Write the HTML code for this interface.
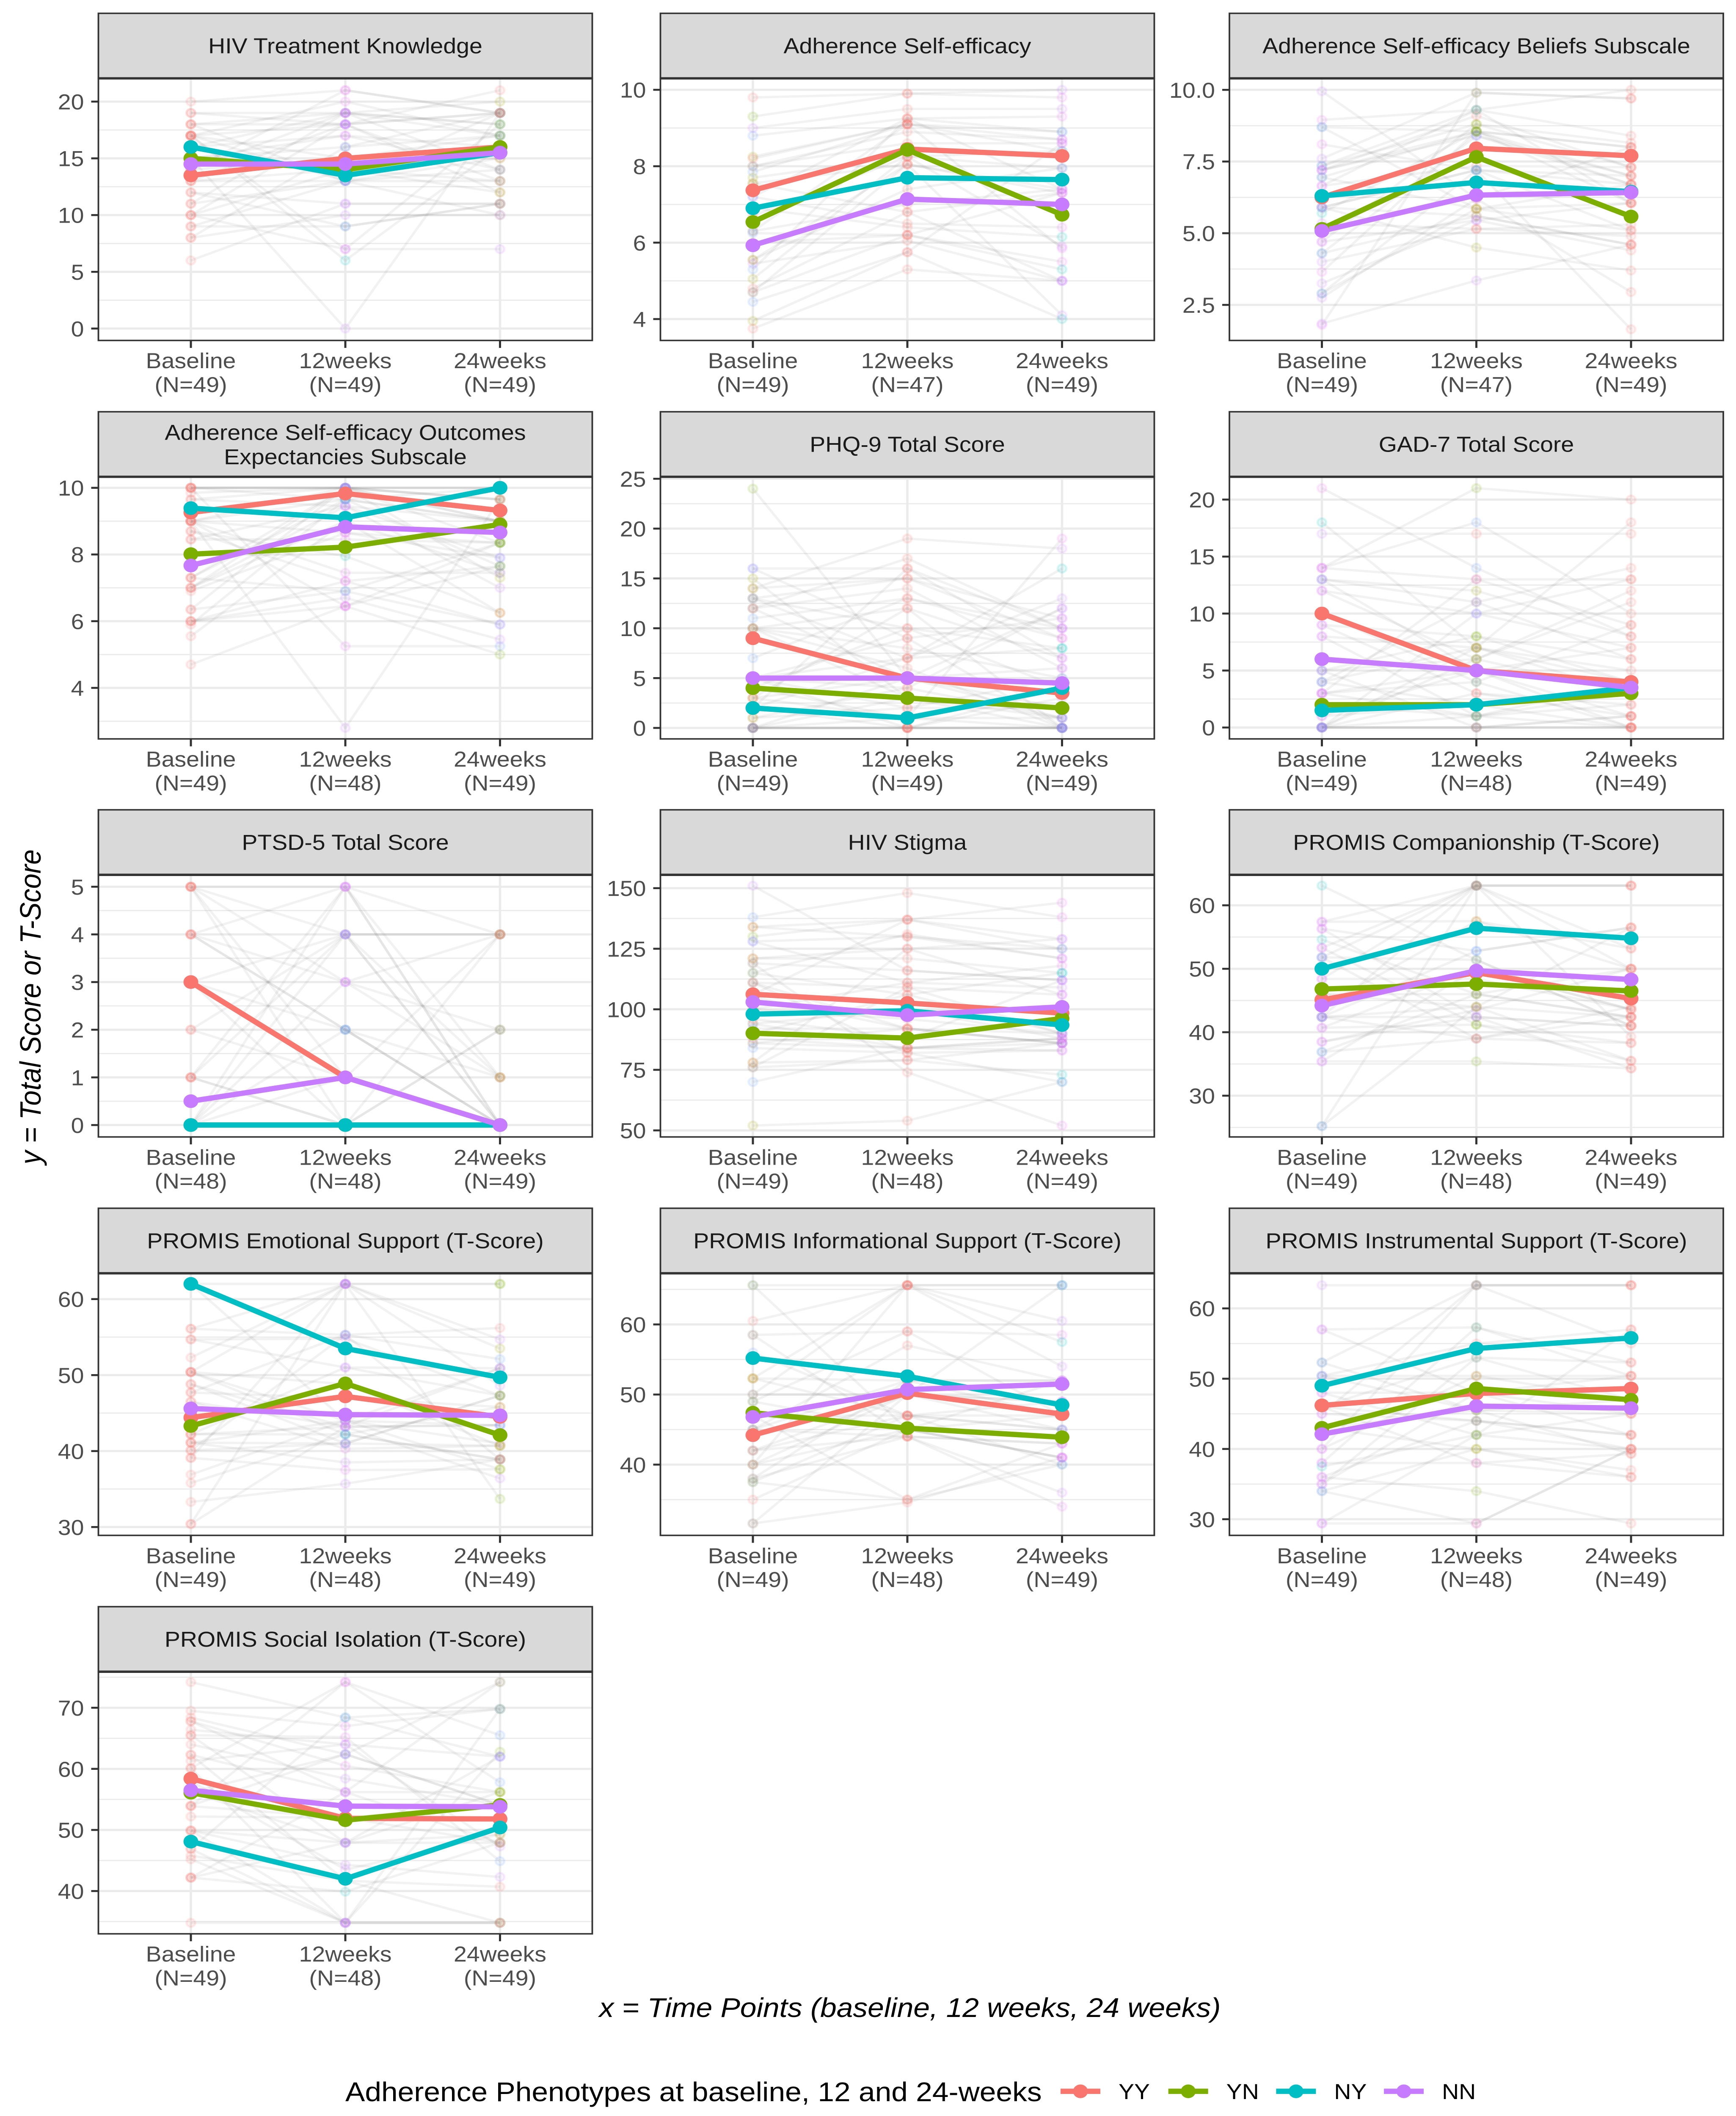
<!DOCTYPE html>
<html lang="en">
<head>
<meta charset="utf-8">
<title>Adherence Phenotypes Small Multiples</title>
<style>
html,body{margin:0;padding:0;background:#fff;overflow:hidden;width:100%;height:100%;}
svg{display:block;width:100vw;height:100vh;font-family:"Liberation Sans",Arial,sans-serif;}
</style>
</head>
<body>
<svg id="chart" xmlns="http://www.w3.org/2000/svg" width="4102" height="5401" viewBox="0 0 4102 5401" preserveAspectRatio="none"></svg>
<script>
// ---------- data ----------
const timeLabels = ['Baseline', '12weeks', '24weeks'];
const phenotypes = ['YY', 'YN', 'NY', 'NN'];
const phenotypeColors = ['#F8766D', '#7CAE00', '#00BFC4', '#C77CFF'];
const subjectColors = ['#F8766D', '#F8766D', '#C77CFF', '#F8766D', '#7CAE00', '#E76BF3', '#F8766D', '#C77CFF', '#00BFC4', '#F8766D', '#619CFF', '#C77CFF', '#F8766D', '#A3A500', '#E76BF3'];

const titleHiv = ['HIV Treatment Knowledge'];
const domainHiv = [-1.05, 22.05];
const ticksHiv = [0, 5, 10, 15, 20];
const tickLabelsHiv = ['0', '5', '10', '15', '20'];
const nHiv = [49, 49, 49];
const yyHiv = [13.5, 15, 16];
const ynHiv = [15, 14, 16];
const nyHiv = [16, 13.5, 15.5];
const nnHiv = [14.5, 14.5, 15.5];
const subjectsHiv = [[20,21,19],[19,19,20],[18,18,21],[18,19,18],[17,18,19],[17,20,17],[17,15,17],[17,13,19],[16,19,18],[16,17,16],[15,17,14],[15,16,19],[15,0,19],[14,15,15],[14,19,14],[13,14,13],[13,13,13],[13,18,12],[12,9,11],[12,11,11],[11,19,17],[11,13,14],[10,18,13],[10,14,12],[10,7,7],[9,13,10],[9,9,11],[8,10,10],[8,16,17],[6,11,11],[17,7,18],[17,6,16],[18,13,15],[14,21,19],[19,18,19]];

const titleAse = ['Adherence Self-efficacy'];
const domainAse = [3.44, 10.3];
const ticksAse = [4, 6, 8, 10];
const tickLabelsAse = ['4', '6', '8', '10'];
const nAse = [49, 47, 49];
const yyAse = [7.37, 8.45, 8.27];
const ynAse = [6.54, 8.43, 6.73];
const nyAse = [6.9, 7.7, 7.65];
const nnAse = [5.93, 7.14, 7.0];
const subjectsAse = [[9.8,9.9,10],[9.3,9.9,9.8],[9,9.5,9.5],[8.8,9.25,9.3],[8.25,9.1,8.9],[8.2,9.1,8.7],[8,8.9,8.7],[8,8.6,8.6],[7.85,9.1,8.4],[7.7,8.25,7.95],[7.55,8.05,7.4],[7.55,6.8,7.3],[7.2,9.25,8.9],[7.2,6.5,6.4],[6.9,6.4,6.15],[6.7,8.25,5.9],[6.3,9.1,5.85],[6.3,7.0,7.4],[6.25,6.2,5.5],[6,6.2,5.3],[5.55,8.05,7.3],[5.55,7.4,7.95],[5.45,6.05,5.0],[5.3,9.25,7.4],[5.05,8.25,8.4],[4.8,6.8,5.0],[4.7,6.2,7.3],[4.7,8.05,4.1],[4.45,5.75,8.6],[3.95,5.75,4.0],[3.75,5.3,5.0]];

const titleBel = ['Adherence Self-efficacy Beliefs Subscale'];
const domainBel = [1.26, 10.4];
const ticksBel = [2.5, 5, 7.5, 10];
const tickLabelsBel = ['2.5', '5.0', '7.5', '10.0'];
const nBel = [49, 47, 49];
const yyBel = [6.25, 7.96, 7.7];
const ynBel = [5.15, 7.66, 5.58];
const nyBel = [6.3, 6.77, 6.45];
const nnBel = [5.08, 6.33, 6.42];
const subjectsBel = [[9.95,6.2,8.0],[8.95,9.3,8.4],[8.7,8.55,8.0],[8.7,5.85,5.1],[8.1,7.2,6.7],[7.6,9.9,9.7],[7.35,9.3,10],[7.35,8.8,8.15],[7.2,9.1,7.3],[7.2,8.55,7.0],[7.2,8.4,6.7],[6.95,8.55,8.0],[6.95,5.85,6.05],[6.65,7.35,7.3],[6.65,9.3,6.05],[5.9,5.6,4.6],[5.9,7.2,7.0],[5.7,8.55,6.7],[5.35,5.15,4.9],[4.7,8.8,7.3],[4.7,5.45,6.05],[4.3,8.4,7.0],[4.3,5.6,4.6],[4.0,5.15,5.3],[3.65,8.55,6.05],[3.25,5.45,4.4],[2.9,7.2,5.1],[2.9,5.85,6.7],[2.75,6.2,2.95],[1.8,9.9,9.7],[1.85,3.35,4.6],[5.9,7.2,1.65],[5.9,4.5,3.7]];

const titleOut = ['Adherence Self-efficacy Outcomes', 'Expectancies Subscale'];
const domainOut = [2.47, 10.33];
const ticksOut = [4, 6, 8, 10];
const tickLabelsOut = ['4', '6', '8', '10'];
const nOut = [49, 48, 49];
const yyOut = [9.26, 9.83, 9.32];
const ynOut = [8.01, 8.22, 8.9];
const nyOut = [9.39, 9.1, 10];
const nnOut = [7.67, 8.83, 8.66];
const subjectsOut = [[10,10,10],[10,10,10],[10,10,9.65],[10,9.65,9],[10,5.25,5.25],[9.85,10,9.65],[9.65,9.45,9],[9.65,10,8.35],[9,10,9.65],[9,8.65,7.9],[9,9.65,7.65],[9,2.8,9.65],[8.45,8.45,8.35],[8.45,9.45,7.9],[8.7,7.2,5.9],[7.3,10,7.3],[7.3,9.65,10],[7,10,9],[7,9.45,7],[6.9,8.65,8.35],[6.35,6.9,8.35],[6.35,10,9],[6,6.45,7.65],[6,6.7,5.45],[6,7.2,7.65],[5.9,9.65,9],[5.55,9,7.45],[4.7,6.45,8.35],[7.3,6.9,5.9],[9.0,7.45,7.45],[8.7,7.95,6.25],[7,9,6.25],[9.0,6.45,5.0]];

const titlePhq = ['PHQ-9 Total Score'];
const domainPhq = [-1.1, 25.2];
const ticksPhq = [0, 5, 10, 15, 20, 25];
const tickLabelsPhq = ['0', '5', '10', '15', '20', '25'];
const nPhq = [49, 49, 49];
const yyPhq = [9, 5, 3.5];
const ynPhq = [4, 3, 2];
const nyPhq = [2, 1, 4];
const nnPhq = [5, 5, 4.5];
const subjectsPhq = [[24,5,1],[16,16,10],[16,9,0],[15,3,0],[14,19,18],[14,15,11],[13,10,4],[13,15,9],[13,7,16],[12,17,10],[12,14,6],[12,5,2],[11,13,9],[10,8,5],[10,12,7],[10,6,0],[10,3,1],[7,13,10],[5,7,8],[5,9,11],[5,2,2],[5,0,3],[4,1,19],[4,10,8],[3,5,12],[3,1,0],[2,7,13],[2,16,7],[2,0,0],[1,4,12],[1,2,5],[0,0,0],[0,0,0],[0,0,0],[0,5,6],[0,1,1],[0,0,4],[0,3,2],[5,4,1],[3,12,0]];

const titleGad = ['GAD-7 Total Score'];
const domainGad = [-1, 22];
const ticksGad = [0, 5, 10, 15, 20];
const tickLabelsGad = ['0', '5', '10', '15', '20'];
const nGad = [49, 48, 49];
const yyGad = [10, 5, 4];
const ynGad = [2, 2, 3];
const nyGad = [1.5, 2, 3.5];
const nnGad = [6, 5, 3.5];
const subjectsGad = [[21,14,8],[18,7,3],[17,17,17],[14,21,20],[14,13,9],[14,18,10],[13,12,8],[13,11,6],[13,5,1],[12,6,3],[12,10,7],[10,4,0],[9,3,1],[9,8,4],[8,7,5],[8,1,0],[5,6,12],[5,0,1],[5,8,6],[4,2,0],[4,11,14],[4,7,4],[3,13,13],[3,1,2],[3,5,0],[3,4,9],[2,1,4],[1,2,3],[1,5,7],[0,0,0],[0,0,0],[0,0,1],[0,3,2],[0,6,11],[0,10,13],[0,1,3],[0,7,18]];

const titlePts = ['PTSD-5 Total Score'];
const domainPts = [-0.25, 5.25];
const ticksPts = [0, 1, 2, 3, 4, 5];
const tickLabelsPts = ['0', '1', '2', '3', '4', '5'];
const nPts = [48, 48, 49];
const yyPts = [3, 1, 0];
const ynPts = [0, 0, 0];
const nyPts = [0, 0, 0];
const nnPts = [0.5, 1, 0];
const subjectsPts = [[5,5,4],[5,4,4],[5,3,1],[5,0,0],[4,2,0],[4,3,2],[4,5,0],[4,2,0],[3,2,0],[3,0,0],[3,1,0],[2,4,0],[2,1,0],[1,5,0],[1,0,0],[1,4,4],[0,0,0],[0,0,0],[0,0,0],[0,4,1],[0,5,1],[0,3,4],[0,1,4],[0,0,2],[0,2,1],[0,0,4],[1,0,2],[3,4,0],[5,1,0]];

const titleStg = ['HIV Stigma'];
const domainStg = [47.3, 155.5];
const ticksStg = [50, 75, 100, 125, 150];
const tickLabelsStg = ['50', '75', '100', '125', '150'];
const nStg = [49, 48, 49];
const yyStg = [106.2, 102.6, 98.4];
const ynStg = [90.1, 88.1, 96.2];
const nyStg = [98, 99.4, 93.5];
const nnStg = [103, 97.6, 101];
const subjectsStg = [[151,116,112],[138,148,138],[134,130,125],[134,137,129],[130,137,144],[128,130,121],[128,111,118],[121,121,115],[121,125,106],[119,74,52],[119,116,112],[115,131,121],[115,106,90],[111,82,70],[111,109,106],[111,92,86],[106,137,125],[105,92,86],[100,111,109],[94,100,88],[94,84,83],[92,92,86],[90,106,115],[88,84,88],[86,84,86],[86,92,90],[84,82,83],[78,79,73],[78,125,129],[76,79,86],[76,109,90],[70,84,88],[52,54,70],[96,88,112],[100,96,90]];

const titleCom = ['PROMIS Companionship (T-Score)'];
const domainCom = [23.5, 64.8];
const ticksCom = [30, 40, 50, 60];
const tickLabelsCom = ['30', '40', '50', '60'];
const nCom = [49, 48, 49];
const yyCom = [45.1, 49.4, 45.3];
const ynCom = [46.8, 47.6, 46.5];
const nyCom = [50, 56.4, 54.8];
const nnCom = [44.2, 49.7, 48.3];
const subjectsCom = [[63.1,51.4,41],[57.4,57.5,50],[57.4,63.1,53.2],[56.3,42.4,34.3],[56.3,52.8,56.5],[54.6,46,42.4],[53.3,63.1,63.1],[53.3,41.2,38.3],[51.8,63.1,50],[51.8,51.4,41],[51.8,39,42.4],[48.4,63.1,63.1],[48.4,48.4,43.6],[46,44,35.5],[46,46,50],[44,57.5,53.2],[42.4,42.4,41],[42.4,63.1,39.3],[42.4,39,38.3],[42.4,52.8,56.5],[42.4,44,42.4],[40.7,50,43.6],[40.7,41.2,35.5],[38.5,43.5,50],[38.5,42.4,41],[36.9,46,42.4],[36.9,39,44],[35.4,35.4,34.3],[35.4,50,43.6],[25.2,63.1,63.1],[25.2,44,56.5]];

const titleEmo = ['PROMIS Emotional Support (T-Score)'];
const domainEmo = [28.9, 63.4];
const ticksEmo = [30, 40, 50, 60];
const tickLabelsEmo = ['30', '40', '50', '60'];
const nEmo = [49, 48, 49];
const yyEmo = [44.4, 47.2, 44.5];
const ynEmo = [43.3, 48.9, 42.1];
const nyEmo = [62, 53.5, 49.7];
const nnEmo = [45.6, 44.8, 44.7];
const subjectsEmo = [[62,62,62],[62,44,41],[56.1,55.3,52.1],[56.1,62,53.5],[54.7,51,47.3],[54.7,54.8,47.3],[52.3,62,48.6],[50.4,42.2,38.9],[50.4,44,37.6],[50.4,48.8,40.7],[50.4,62,33.7],[48.8,43.2,43.4],[48.8,41,47.3],[47.7,55.3,38.9],[47.7,47,45.8],[46.5,40.3,40.7],[46.5,43.2,36.4],[42.2,43.2,43.4],[42.2,42.2,38.9],[42.2,51,50.9],[41.1,41,47.3],[41.1,38.5,38.9],[41.1,44,43.4],[40.1,41,40.7],[40.1,55.3,56.2],[39.1,37.5,37.6],[39.1,62,54.7],[36.9,44,50.9],[35.8,42.2,45.8],[33.3,35.7,38.9],[30.4,62,62],[30.4,43.2,50.9]];

const titleInf = ['PROMIS Informational Support (T-Score)'];
const domainInf = [29.9, 67.3];
const ticksInf = [40, 50, 60];
const tickLabelsInf = ['40', '50', '60'];
const nInf = [49, 48, 49];
const yyInf = [44.2, 50.2, 47.2];
const ynInf = [47.4, 45.2, 43.9];
const nyInf = [55.2, 52.6, 48.5];
const nnInf = [46.8, 50.7, 51.5];
const subjectsInf = [[65.6,45,41],[65.6,65.6,65.6],[60.5,65.6,60.5],[58.5,59,58.5],[58.5,44,43],[56,47,45],[52.3,65.6,57.5],[52.3,52,52],[50,50,49],[50,65.6,54],[49,45,41],[49,59,47],[47,47,49],[47,35,40],[45,57,52],[45,44,43],[45,52,47],[42,47,47],[42,50,45],[42,44,36],[40,45,41],[40,65.6,65.6],[40,50,49],[38,44,34],[38,52,52],[37.5,35,43],[37.5,47,45],[35,45,47],[31.6,50,65.6],[31.6,34.6,41],[47,45,52],[52.3,47,40]];

const titleIns = ['PROMIS Instrumental Support (T-Score)'];
const domainIns = [27.7, 65];
const ticksIns = [30, 40, 50, 60];
const tickLabelsIns = ['30', '40', '50', '60'];
const nIns = [49, 48, 49];
const yyIns = [46.2, 47.9, 48.6];
const ynIns = [43, 48.6, 47];
const nyIns = [49, 54.3, 55.8];
const nnIns = [42.1, 46.1, 45.8];
const subjectsIns = [[63.3,63.3,63.3],[57,57.3,50.4],[57,48,42],[52.3,63.3,63.3],[52.3,45.5,39.3],[50.4,55,57],[50.4,50.4,47],[48,48,45],[48,42,40],[46,53,52.3],[46,38,36],[45,44,42],[45,63.3,55],[43,45.5,47],[43,40,37],[40,50.4,50.4],[40,63.3,63.3],[38,38,39.3],[38,57.3,52.3],[37.5,42,45],[36,44,42],[36,34,29.4],[35,48,50.4],[35,53,47],[34,40,36],[34,29.4,40],[29.4,42,57],[29.4,29.4,40],[46,44,40],[50.4,45.5,45]];

const titleIso = ['PROMIS Social Isolation (T-Score)'];
const domainIso = [33, 75.9];
const ticksIso = [40, 50, 60, 70];
const tickLabelsIso = ['40', '50', '60', '70'];
const nIso = [49, 48, 49];
const yyIso = [58.4, 51.9, 51.8];
const ynIso = [56.1, 51.6, 54.1];
const nyIso = [48.1, 42, 50.4];
const nnIso = [56.5, 53.9, 53.8];
const subjectsIso = [[74.2,68.4,62],[69.5,67,69.8],[68.4,62.4,54.1],[67.8,56.2,47.9],[67.8,60.5,56.2],[66.4,64,47.3],[65.5,65.2,44.9],[65.5,47.9,56.2],[64,58.4,54.1],[62.3,56.2,56.2],[61.3,64,62],[60.1,74.2,65.5],[60.1,34.8,34.8],[58,43.5,49.3],[56.2,47.9,49.3],[56.2,62.4,54.1],[53.9,52,47.9],[52.2,52,54.1],[49.9,47.9,47.9],[49.9,34.8,34.8],[49.9,44.3,42.3],[46.9,34.8,69.8],[46.9,68.4,69.8],[45.8,41.7,40.7],[45.2,34.8,62.8],[42.2,56.2,74.2],[42.2,47.9,62],[42.2,39.9,47.9],[34.8,34.8,34.8],[54,62.4,74.2],[62.3,41.7,34.8],[53.9,74.2,57.8]];

const panels = [
  {slug:'hiv-knowledge', title:titleHiv, domain:domainHiv, ticks:ticksHiv, labels:tickLabelsHiv, n:nHiv, series:[yyHiv,ynHiv,nyHiv,nnHiv], subjects:subjectsHiv},
  {slug:'adherence-self-efficacy', title:titleAse, domain:domainAse, ticks:ticksAse, labels:tickLabelsAse, n:nAse, series:[yyAse,ynAse,nyAse,nnAse], subjects:subjectsAse},
  {slug:'beliefs-subscale', title:titleBel, domain:domainBel, ticks:ticksBel, labels:tickLabelsBel, n:nBel, series:[yyBel,ynBel,nyBel,nnBel], subjects:subjectsBel},
  {slug:'outcomes-subscale', title:titleOut, domain:domainOut, ticks:ticksOut, labels:tickLabelsOut, n:nOut, series:[yyOut,ynOut,nyOut,nnOut], subjects:subjectsOut},
  {slug:'phq9', title:titlePhq, domain:domainPhq, ticks:ticksPhq, labels:tickLabelsPhq, n:nPhq, series:[yyPhq,ynPhq,nyPhq,nnPhq], subjects:subjectsPhq},
  {slug:'gad7', title:titleGad, domain:domainGad, ticks:ticksGad, labels:tickLabelsGad, n:nGad, series:[yyGad,ynGad,nyGad,nnGad], subjects:subjectsGad},
  {slug:'ptsd5', title:titlePts, domain:domainPts, ticks:ticksPts, labels:tickLabelsPts, n:nPts, series:[yyPts,ynPts,nyPts,nnPts], subjects:subjectsPts},
  {slug:'hiv-stigma', title:titleStg, domain:domainStg, ticks:ticksStg, labels:tickLabelsStg, n:nStg, series:[yyStg,ynStg,nyStg,nnStg], subjects:subjectsStg},
  {slug:'companionship', title:titleCom, domain:domainCom, ticks:ticksCom, labels:tickLabelsCom, n:nCom, series:[yyCom,ynCom,nyCom,nnCom], subjects:subjectsCom},
  {slug:'emotional-support', title:titleEmo, domain:domainEmo, ticks:ticksEmo, labels:tickLabelsEmo, n:nEmo, series:[yyEmo,ynEmo,nyEmo,nnEmo], subjects:subjectsEmo},
  {slug:'informational-support', title:titleInf, domain:domainInf, ticks:ticksInf, labels:tickLabelsInf, n:nInf, series:[yyInf,ynInf,nyInf,nnInf], subjects:subjectsInf},
  {slug:'instrumental-support', title:titleIns, domain:domainIns, ticks:ticksIns, labels:tickLabelsIns, n:nIns, series:[yyIns,ynIns,nyIns,nnIns], subjects:subjectsIns},
  {slug:'social-isolation', title:titleIso, domain:domainIso, ticks:ticksIso, labels:tickLabelsIso, n:nIso, series:[yyIso,ynIso,nyIso,nnIso], subjects:subjectsIso}
];

// ---------- layout ----------
const SVG_NS = 'http://www.w3.org/2000/svg';
const root = document.getElementById('chart');
const colLeft = [232.5, 1560.5, 2905];
const rowTop = [34, 1051, 2067, 3084, 4101];
const plotWidth = 1167;
const stripHeight = 166;
const plotHeight = 669;
const tickOffset = [218.5, 583.5, 949];
const darkLine = '#333333';
const gridColor = '#EBEBEB';

function make(tag, attrs, parent) {
  const node = document.createElementNS(SVG_NS, tag);
  for (const key in attrs) node.setAttribute(key, attrs[key]);
  parent.appendChild(node);
  return node;
}
function addText(parent, x, y, str, size, fill, anchor, extra) {
  const node = make('text', Object.assign({x: x, y: y, 'font-size': size, fill: fill, 'text-anchor': anchor}, extra || {}), parent);
  node.textContent = str;
  return node;
}

panels.forEach(function (panel, idx) {
  const col = idx % 3;
  const row = Math.floor(idx / 3);
  const left = colLeft[col];
  const top = rowTop[row] + stripHeight;
  const bottom = top + plotHeight;
  const right = left + plotWidth;
  const xScale = function (i) { return left + tickOffset[i]; };
  const yScale = function (v) {
    return bottom - (v - panel.domain[0]) / (panel.domain[1] - panel.domain[0]) * plotHeight;
  };

  const g = make('g', {}, root);
  
  

  const bg = make('rect', {x: left, y: top, width: plotWidth, height: plotHeight, fill: '#FFFFFF'}, g);
  
  

  // minor gridlines
  const step = panel.ticks[1] - panel.ticks[0];
  const minors = [panel.ticks[0] - step / 2];
  panel.ticks.forEach(function (t) { minors.push(t + step / 2); });
  minors.forEach(function (m) {
    if (m <= panel.domain[0] || m >= panel.domain[1]) return;
    const minor = make('line', {x1: left, x2: right, y1: yScale(m), y2: yScale(m), stroke: gridColor, 'stroke-width': 3}, g);
    
    
  });
  // major gridlines
  panel.ticks.forEach(function (t) {
    const major = make('line', {x1: left, x2: right, y1: yScale(t), y2: yScale(t), stroke: gridColor, 'stroke-width': 5.5}, g);
    
    
  });
  timeLabels.forEach(function (lab, i) {
    const vert = make('line', {x1: xScale(i), x2: xScale(i), y1: top, y2: bottom, stroke: gridColor, 'stroke-width': 5.5}, g);
    
    
  });

  // individual subject trajectories
  panel.subjects.forEach(function (values) {
    const pts = values.map(function (v, i) { return xScale(i) + ',' + yScale(v); }).join(' ');
    const traj = make('polyline', {points: pts, fill: 'none', stroke: '#7F7F7F', 'stroke-opacity': 0.1, 'stroke-width': 6, 'stroke-linejoin': 'round'}, g);
    
    
  });
  panel.subjects.forEach(function (values, s) {
    values.forEach(function (v, i) {
      const color = subjectColors[(s * 3 + i * 5 + idx) % subjectColors.length];
      const dot = make('circle', {cx: xScale(i), cy: yScale(v), r: 10.5, fill: color, 'fill-opacity': 0.1, stroke: color, 'stroke-opacity': 0.13, 'stroke-width': 5}, g);
      
      
    });
  });

  // phenotype median lines
  panel.series.forEach(function (values, k) {
    const pts = values.map(function (v, i) { return xScale(i) + ',' + yScale(v); }).join(' ');
    const ln = make('polyline', {points: pts, fill: 'none', stroke: phenotypeColors[k], 'stroke-width': 13.5, 'stroke-linejoin': 'round'}, g);
    
    
  });
  panel.series.forEach(function (values, k) {
    values.forEach(function (v, i) {
      const pt = make('circle', {cx: xScale(i), cy: yScale(v), r: 17.5, fill: phenotypeColors[k]}, g);
      
      
    });
  });

  // panel border
  const border = make('rect', {x: left, y: top, width: plotWidth, height: plotHeight, fill: 'none', stroke: darkLine, 'stroke-width': 3.8}, g);
  
  

  // strip
  const strip = make('rect', {x: left, y: rowTop[row], width: plotWidth, height: stripHeight, fill: '#D9D9D9', stroke: darkLine, 'stroke-width': 3.8}, g);
  
  
  const stripLine = make('line', {x1: left, x2: right, y1: top, y2: top, stroke: darkLine, 'stroke-width': 6}, g);
  
  
  panel.title.forEach(function (line, li) {
    const baseY = panel.title.length === 1 ? rowTop[row] + 102 : rowTop[row] + 72 + li * 62;
    const st = addText(g, left + plotWidth / 2, baseY, line, 55.5, '#1A1A1A', 'middle');
    
    
  });

  // y axis
  panel.ticks.forEach(function (t, i) {
    const tick = make('line', {x1: left - 17, x2: left, y1: yScale(t), y2: yScale(t), stroke: darkLine, 'stroke-width': 5}, g);
    
    
    const lab = addText(g, left - 34, yScale(t) + 20, panel.labels[i], 55.5, '#4D4D4D', 'end');
    
    
  });

  // x axis
  timeLabels.forEach(function (name, i) {
    const tick = make('line', {x1: xScale(i), x2: xScale(i), y1: bottom, y2: bottom + 19, stroke: darkLine, 'stroke-width': 5}, g);
    
    
    const lab1 = addText(g, xScale(i), bottom + 71, name, 55.5, '#4D4D4D', 'middle');
    
    
    const lab2 = addText(g, xScale(i), bottom + 132, '(N=' + panel.n[i] + ')', 55.5, '#4D4D4D', 'middle');
    
    
  });
});

// axis titles
const xTitle = addText(root, 2150, 5148, 'x = Time Points (baseline, 12 weeks, 24 weeks)', 69.5, '#000000', 'middle', {'font-style': 'italic'});


const yTitle = addText(root, 0, 0, 'y = Total Score or T-Score', 69.5, '#000000', 'middle', {'font-style': 'italic', transform: 'translate(96 2570) rotate(-90)'});



// legend
const legendGroup = make('g', {}, root);


const legendTitle = addText(legendGroup, 816, 5363, 'Adherence Phenotypes at baseline, 12 and 24-weeks', 69.5, '#000000', 'start');


const legendStart = 2553;
const legendStep = 254.7;
phenotypes.forEach(function (name, k) {
  const cx = legendStart + k * legendStep;
  const keyLine = make('line', {x1: cx - 47, x2: cx + 47, y1: 5338, y2: 5338, stroke: phenotypeColors[k], 'stroke-width': 13.5}, legendGroup);
  
  
  const keyDot = make('circle', {cx: cx, cy: 5338, r: 17.5, fill: phenotypeColors[k]}, legendGroup);
  
  
  const keyLabel = addText(legendGroup, cx + 90, 5358, name, 55.5, '#000000', 'start');
  
  
});
</script>
</body>
</html>
